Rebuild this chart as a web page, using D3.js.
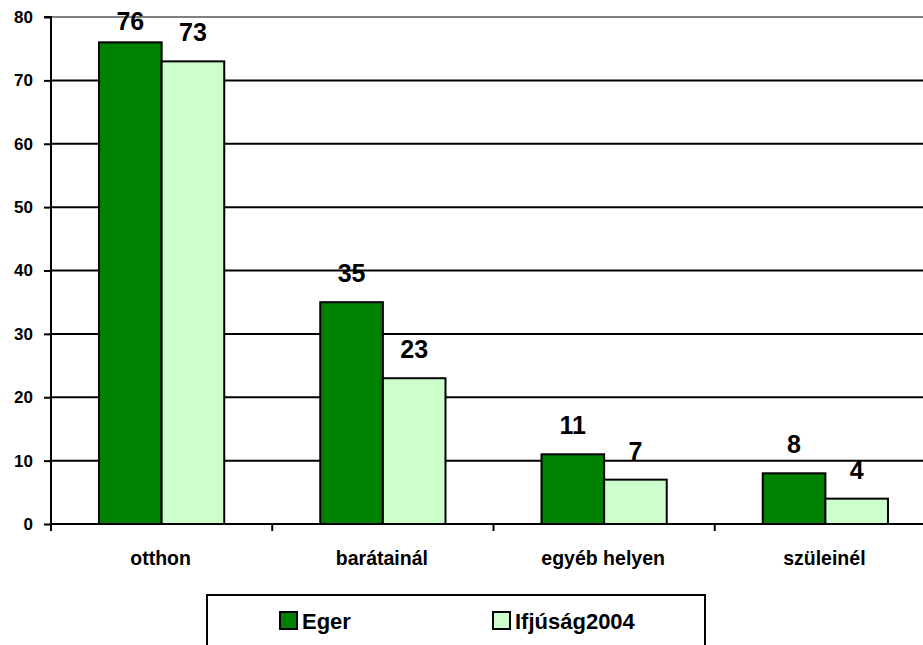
<!DOCTYPE html>
<html>
<head>
<meta charset="utf-8">
<script src="https://cdn.jsdelivr.net/npm/d3@7"></script>
<style>
  html, body { margin: 0; padding: 0; background: #fff; }
  svg { display: block; }
  text { font-family: "Liberation Sans", Arial, sans-serif; font-weight: bold; fill: #000; }
</style>
</head>
<body>
<svg id="chart" width="923" height="645"></svg>
<script>
const categories = ["otthon", "barátainál", "egyéb helyen", "szüleinél"];
const seriesNames = ["Eger", "Ifjúság2004"];
const eger = [76, 35, 11, 8];
const ifjusag = [73, 23, 7, 4];
const yTicks = [0, 10, 20, 30, 40, 50, 60, 70, 80];
const colors = ["#008000", "#CCFFCC"];

const seriesValues = [eger, ifjusag];
const svg = d3.select("#chart");

const mLeft = 51, mTop = 17, mBottom = 524, mRight = 936;

const y = d3.scaleLinear().domain([0, 80]).range([mBottom, mTop]);
const x0 = d3.scaleBand().domain(categories).range([mLeft, mRight]).padding(0);
const bw = x0.bandwidth();
const x1 = d3.scaleBand().domain(seriesNames).range([bw * 0.217, bw * 0.783]).padding(0);

// gridlines
svg.append("g").selectAll("line")
  .data(yTicks.filter(d => d > 0))
  .join("line")
  .attr("x1", mLeft).attr("x2", mRight)
  .attr("y1", d => y(d)).attr("y2", d => y(d))
  .attr("stroke", d => d === 80 ? "#808080" : "#000")
  .attr("stroke-width", 2);

// bars
const groups = svg.append("g").selectAll("g")
  .data(categories)
  .join("g")
  .attr("transform", c => `translate(${x0(c)},0)`);

groups.selectAll("rect")
  .data((c, i) => seriesNames.map((s, j) => ({ s, j, v: seriesValues[j][i] })))
  .join("rect")
  .attr("x", d => x1(d.s))
  .attr("width", x1.bandwidth())
  .attr("y", d => y(d.v))
  .attr("height", d => y(0) - y(d.v))
  .attr("fill", d => colors[d.j])
  .attr("stroke", "#000")
  .attr("stroke-width", 2);

groups.selectAll("text.val")
  .data((c, i) => seriesNames.map((s, j) => ({ s, j, v: seriesValues[j][i] })))
  .join("text")
  .attr("class", "val")
  .attr("x", d => x1(d.s) + x1.bandwidth() / 2)
  .attr("y", d => Math.max(y(d.v) - 20, 30))
  .attr("text-anchor", "middle")
  .attr("font-size", 25)
  .text(d => d.v);

// y axis
const yAxis = d3.axisLeft(y).tickValues(yTicks).tickSize(7).tickPadding(11);
const ya = svg.append("g").attr("transform", `translate(${mLeft},0)`).call(yAxis);
ya.select(".domain").attr("stroke", "#000").attr("stroke-width", 2).attr("d", `M-7,${mTop}H0V${mBottom}`);
ya.selectAll(".tick line").attr("stroke", "#000").attr("stroke-width", 2);
ya.selectAll(".tick text").attr("font-size", 17).attr("font-family", "Liberation Sans, Arial, sans-serif").attr("font-weight", "bold").attr("fill", "#000");

// x axis
const xa = svg.append("g").attr("transform", `translate(0,${mBottom})`);
xa.append("line").attr("x1", mLeft).attr("x2", mRight).attr("y1", 0).attr("y2", 0)
  .attr("stroke", "#000").attr("stroke-width", 2);
xa.selectAll("line.tk")
  .data(categories.map(c => x0(c)).concat([mRight]))
  .join("line").attr("class", "tk")
  .attr("x1", d => d).attr("x2", d => d).attr("y1", 0).attr("y2", 7)
  .attr("stroke", "#000").attr("stroke-width", 2);
xa.selectAll("text")
  .data(categories)
  .join("text")
  .attr("x", c => x0(c) + bw / 2 - 1)
  .attr("y", 41)
  .attr("text-anchor", "middle")
  .attr("font-size", 19.5)
  .text(c => c);

// legend
const lg = svg.append("g");
lg.append("rect").attr("x", 207).attr("y", 595).attr("width", 498).attr("height", 60)
  .attr("fill", "#fff").attr("stroke", "#000").attr("stroke-width", 2);
const legX = [280, 493];
seriesNames.forEach((s, j) => {
  lg.append("rect").attr("x", legX[j]).attr("y", 612).attr("width", 17).attr("height", 17)
    .attr("fill", colors[j]).attr("stroke", "#000").attr("stroke-width", 2);
  lg.append("text").attr("x", legX[j] + 22).attr("y", 629).attr("font-size", 22).text(s);
});
</script>
</body>
</html>
